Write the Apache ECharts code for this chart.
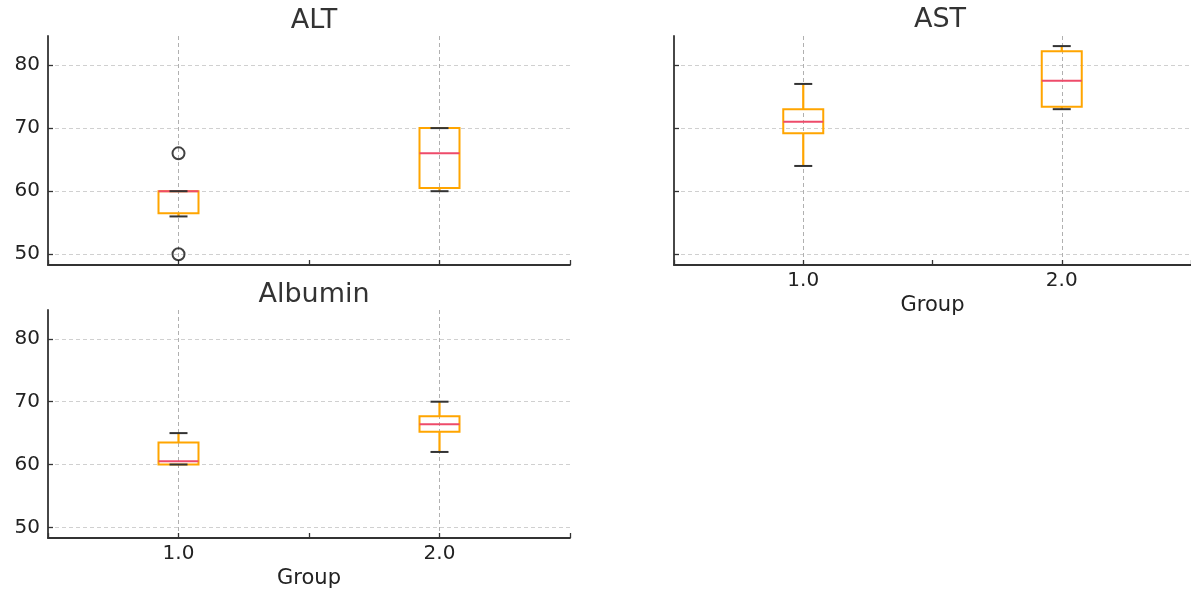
<!DOCTYPE html>
<html>
<head>
<meta charset="utf-8">
<script src="https://cdn.jsdelivr.net/npm/echarts@6/dist/echarts.min.js"></script>
<style>
  html, body { margin: 0; padding: 0; background: #fff; }
  #chart { width: 1191px; height: 590px; }
</style>
</head>
<body>
<div id="chart"></div>
<script>
// x positions (matplotlib xlim 0.5..2.5), boxes sit on 1.0 and 2.0
const xTicks = ['0.5', '1.0', '1.5', '2.0', '2.5'];
const groupIndex = [1, 3];
const yTicks = [50, 60, 70, 80];

// per panel: whisker low, Q1, median, Q3, whisker high  (group 1.0, group 2.0)
const altLow = [56, 60];
const altQ1 = [56.5, 60.5];
const altMed = [60, 66];
const altQ3 = [60, 70];
const altHigh = [60, 70];
const altOutliers = [[1, 66], [1, 50]];

const astLow = [64, 73];
const astQ1 = [69.2, 73.4];
const astMed = [71, 77.5];
const astQ3 = [73, 82.2];
const astHigh = [77, 83];

const albLow = [60, 62];
const albQ1 = [60, 65.2];
const albMed = [60.5, 66.4];
const albQ3 = [63.5, 67.7];
const albHigh = [65, 70];

const FONT = 'DejaVu Sans';
const ORANGE = '#FFA500';
const MEDIAN = '#EE4B6A';
const CAP = '#333';

function boxRows(low, q1, med, q3, high) {
  return groupIndex.map((x, i) => [x, low[i], q1[i], med[i], q3[i], high[i]]);
}

function renderBox(params, api) {
  const x = api.value(0);
  const lo = api.coord([x, api.value(1)]);
  const q1 = api.coord([x, api.value(2)]);
  const md = api.coord([x, api.value(3)]);
  const q3 = api.coord([x, api.value(4)]);
  const hi = api.coord([x, api.value(5)]);
  const half = 20, cap = 9;
  const cx = lo[0];
  return {
    type: 'group',
    children: [
      { type: 'line', shape: { x1: cx, y1: lo[1], x2: cx, y2: q1[1] }, style: { stroke: ORANGE, lineWidth: 2.2 } },
      { type: 'line', shape: { x1: cx, y1: q3[1], x2: cx, y2: hi[1] }, style: { stroke: ORANGE, lineWidth: 2.2 } },
      { type: 'rect', shape: { x: cx - half, y: q3[1], width: half * 2, height: q1[1] - q3[1] },
        style: { fill: 'none', stroke: ORANGE, lineWidth: 2 } },
      { type: 'line', shape: { x1: cx - half, y1: md[1], x2: cx + half, y2: md[1] }, style: { stroke: MEDIAN, lineWidth: 2 } },
      { type: 'line', shape: { x1: cx - cap, y1: lo[1], x2: cx + cap, y2: lo[1] }, style: { stroke: CAP, lineWidth: 2 } },
      { type: 'line', shape: { x1: cx - cap, y1: hi[1], x2: cx + cap, y2: hi[1] }, style: { stroke: CAP, lineWidth: 2 } }
    ]
  };
}

const grids = [
  { left: 48, top: 36, width: 522, height: 229 },
  { left: 674, top: 36, width: 522, height: 229 },
  { left: 48, top: 310, width: 522, height: 229 }
];

function xAxis(gridIndex, showLabels) {
  return {
    type: 'category',
    gridIndex: gridIndex,
    data: xTicks,
    boundaryGap: false,
    name: showLabels ? 'Group' : '',
    nameLocation: 'middle',
    nameGap: 30,
    nameTextStyle: { fontFamily: FONT, fontSize: 21, color: '#222' },
    axisLine: { lineStyle: { color: '#333', width: 1.8 } },
    axisTick: { show: true, inside: true, length: 5, interval: 0, lineStyle: { color: '#333', width: 1.3 } },
    axisLabel: {
      show: showLabels,
      interval: (i) => i === 1 || i === 3,
      margin: 6,
      fontFamily: FONT, fontSize: 20, color: '#222'
    },
    splitLine: {
      show: true,
      interval: (i) => i === 1 || i === 3,
      lineStyle: { color: '#b0b0b0', type: [4, 3], width: 1 }
    }
  };
}

function yAxis(gridIndex, showLabels) {
  return {
    type: 'value',
    gridIndex: gridIndex,
    min: 48.3,
    max: 84.6,
    splitNumber: 4,
    axisLine: { show: true, lineStyle: { color: '#333', width: 1.8 } },
    axisTick: { show: true, inside: true, length: 5, customValues: yTicks, lineStyle: { color: '#333', width: 1.3 } },
    axisLabel: {
      show: showLabels, customValues: yTicks, margin: 8,
      fontFamily: FONT, fontSize: 20, color: '#222'
    },
    splitLine: {
      show: true,
      lineStyle: { color: '#d0d0d0', type: [4, 3], width: 1 }
    }
  };
}

const titleStyle = { fontFamily: FONT, fontSize: 27, fontWeight: 'normal', color: '#333' };

const chart = echarts.init(document.getElementById('chart'));
chart.setOption({
  animation: false,
  backgroundColor: '#fff',
  title: [
    { text: 'ALT', left: 309, top: 2, textAlign: 'center', textStyle: titleStyle },
    { text: 'AST', left: 935, top: 1, textAlign: 'center', textStyle: titleStyle },
    { text: 'Albumin', left: 309, top: 276, textAlign: 'center', textStyle: titleStyle }
  ],
  grid: grids,
  xAxis: [xAxis(0, false), xAxis(1, true), xAxis(2, true)],
  yAxis: [yAxis(0, true), yAxis(1, false), yAxis(2, true)],
  series: [
    {
      type: 'custom', xAxisIndex: 0, yAxisIndex: 0,
      data: boxRows(altLow, altQ1, altMed, altQ3, altHigh),
      encode: { x: 0, y: [1, 2, 3, 4, 5] },
      renderItem: renderBox
    },
    {
      type: 'scatter', xAxisIndex: 0, yAxisIndex: 0,
      data: altOutliers,
      symbol: 'circle', symbolSize: 12,
      itemStyle: { color: 'rgba(0,0,0,0)', borderColor: '#111', borderWidth: 2 }
    },
    {
      type: 'custom', xAxisIndex: 1, yAxisIndex: 1,
      data: boxRows(astLow, astQ1, astMed, astQ3, astHigh),
      encode: { x: 0, y: [1, 2, 3, 4, 5] },
      renderItem: renderBox
    },
    {
      type: 'custom', xAxisIndex: 2, yAxisIndex: 2,
      data: boxRows(albLow, albQ1, albMed, albQ3, albHigh),
      encode: { x: 0, y: [1, 2, 3, 4, 5] },
      renderItem: renderBox
    }
  ]
});
</script>
</body>
</html>
